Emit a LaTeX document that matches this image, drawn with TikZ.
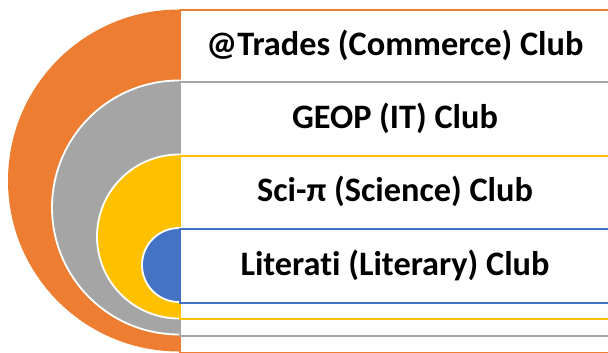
\documentclass[tikz,border=0pt]{standalone}
\usepackage{fontspec}
\setmainfont{Carlito}[Ligatures=NoCommon]
\usepackage{tikz}

\definecolor{clubOrange}{HTML}{ED7D31}
\definecolor{clubGray}{HTML}{A5A5A5}
\definecolor{clubYellow}{HTML}{FFC000}
\definecolor{clubBlue}{HTML}{4472C4}

\begin{document}
\begin{tikzpicture}[x=1pt, y=-1pt,
    ring/.style={draw=white, line width=1.8pt},
    band/.style={rectangle, fill=white, line width=1.6pt, anchor=north west, minimum width=440pt, inner sep=0pt},
    clubtext/.style={font=\fontsize{34.3}{40}\selectfont\bfseries}]
    \useasboundingbox (0,0) rectangle (608,353);
    \clip (0,0) rectangle (608,353);

    % rings and their boxes, outer to inner
    \fill[clubOrange] (179,180.5) circle[radius=171];
    \node (tradesbox) at (179,9) [band, draw=clubOrange, minimum height=343pt] {};
    \filldraw[ring, fill=clubGray] (179,207.5) circle[radius=127];
    \node (geopbox) at (179,81) [band, draw=clubGray, minimum height=254pt] {};
    \filldraw[ring, fill=clubYellow] (179,236.5) circle[radius=82];
    \node (scibox) at (179,155) [band, draw=clubYellow, minimum height=163pt] {};
    \filldraw[ring, fill=clubBlue] (179,265) circle[radius=37];
    \node (literatibox) at (179,228) [band, draw=clubBlue, minimum height=74pt] {};

    % labels
    \node (trades) at (395,45) [clubtext] {@Trades (Commerce) Club};
    \node (geop) at (395,118) [clubtext] {GEOP (IT) Club};
    \node (sci) at (395,191.5) [clubtext] {Sci-π (Science) Club};
    \node (literati) at (395,265) [clubtext] {Literati (Literary) Club};
\end{tikzpicture}
\end{document}
